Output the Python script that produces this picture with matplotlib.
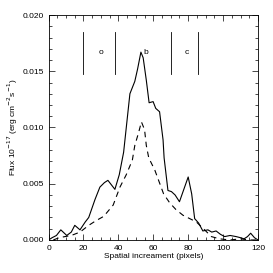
import numpy as np
import matplotlib
matplotlib.use('Agg')
import matplotlib.pyplot as plt
from matplotlib.ticker import MultipleLocator

# solid profile
x_solid = [0, 2, 4.5, 7, 10.4, 13, 15, 18, 21, 23, 26.6, 29.4, 32, 34, 38, 40.5, 43,
           46.6, 49.4, 51, 52.9, 54.2, 56, 57.6, 59.9, 61.4, 63.6, 65.6, 66.2, 68.4, 70.4,
           72.5, 75, 77.5, 80, 82, 83.7, 86, 88.4, 91.3, 93.5, 96, 98.5, 100.9, 104,
           107.5, 110, 112, 114, 115.8, 118, 120]
y_solid = [0.0000, 0.0002, 0.0004, 0.0009, 0.0004, 0.0007, 0.0013, 0.0009, 0.0016, 0.0020,
           0.0036, 0.0047, 0.0051, 0.0053, 0.0045, 0.0058, 0.0078,
           0.0130, 0.0141, 0.0152, 0.0167, 0.0162, 0.0142, 0.0122, 0.0123, 0.0117, 0.0114,
           0.0089, 0.0073, 0.0044, 0.0043, 0.0040, 0.0034, 0.0045, 0.0056, 0.0041, 0.0019,
           0.0015, 0.0008, 0.0009, 0.0007, 0.0008, 0.0005, 0.0003, 0.0004, 0.0003, 0.0002,
           0.0001, 0.0003, 0.0006, 0.0002, 0.0000]

# dashed profile
x_dash = [2.7, 6, 9.4, 13, 18, 23, 27, 31.6, 37, 40.9, 44.5, 48, 49.4, 51.5, 53.2, 55,
          56, 57.4, 60.9, 65.9, 69.4, 73, 77, 84.7, 89.4, 93.3, 98, 104, 110, 115, 120]
y_dash = [0.0000, 0.0002, 0.0003, 0.0004, 0.0007, 0.0013, 0.0017, 0.0021, 0.0031, 0.0047,
          0.0058, 0.0071, 0.0084, 0.0095, 0.0105, 0.0098, 0.0084, 0.0073, 0.0062, 0.0041,
          0.0033, 0.0027, 0.0022, 0.0016, 0.0009, 0.0003, 0.0001, 0.0000, 0.0001, 0.0000, 0.0000]

# region markers
region_lines = [20, 38, 70, 85.5]
region_labels = ['o', 'b', 'c']
region_label_x = [30, 55.5, 79]
region_label_y = [0.0167, 0.0167, 0.0167]

plt.rcParams['font.family'] = ['Liberation Sans', 'DejaVu Sans']
plt.rcParams['font.size'] = 6

fig = plt.figure(figsize=(2.73, 2.73), dpi=100)
ax = fig.add_axes([0.178, 0.121, 0.767, 0.824])

ax.plot(x_solid, y_solid, color='black', lw=0.8)
ax.plot(x_dash, y_dash, color='black', lw=0.8, ls=(0, (5, 4)))

for xv in region_lines:
    ax.plot([xv, xv], [0.01475, 0.0185], color='black', lw=0.6)
for lab, xv, yv in zip(region_labels, region_label_x, region_label_y):
    ax.text(xv, yv, lab, ha='center', va='center', fontsize=6)

ax.set_xlim(0, 120)
ax.set_ylim(0, 0.020)
ax.xaxis.set_major_locator(MultipleLocator(20))
ax.xaxis.set_minor_locator(MultipleLocator(5))
ax.yaxis.set_major_locator(MultipleLocator(0.005))
ax.yaxis.set_minor_locator(MultipleLocator(0.001))
ax.yaxis.set_major_formatter(matplotlib.ticker.FormatStrFormatter('%.3f'))
ax.tick_params(which='both', direction='in', top=True, right=True, width=0.5, labelsize=6)
ax.tick_params(which='major', length=4)
ax.tick_params(which='minor', length=2)
for s in ax.spines.values():
    s.set_linewidth(0.6)

ax.set_xlabel('Spatial increament (pixels)', fontsize=6, labelpad=1)
ax.set_ylabel(r'Flux 10$^{-17}$ (erg cm$^{-2}$s$^{-1}$)', fontsize=6, labelpad=2)

plt.savefig('out.png', dpi=100)
plt.close()
